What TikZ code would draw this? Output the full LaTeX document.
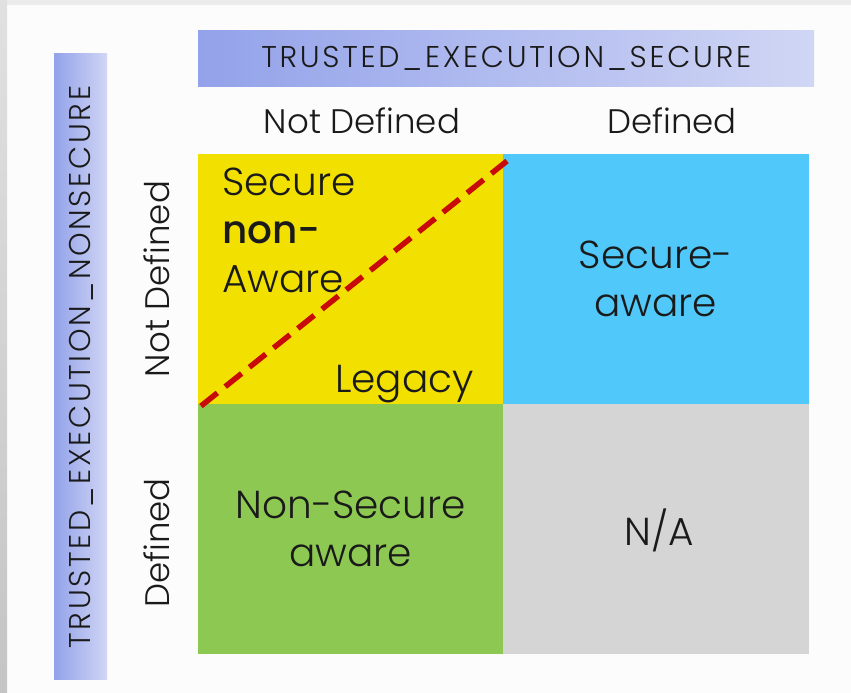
\documentclass[tikz,border=0pt]{standalone}
\usepackage{fontspec}
\setmainfont{Poppins Light}[BoldFont=Poppins Medium]
\newfontfamily\barfont{Poppins Light}[LetterSpace=9]
\definecolor{cellyellow}{HTML}{F2E000}
\definecolor{cellblue}{HTML}{50C8FA}
\definecolor{cellgreen}{HTML}{8DC952}
\definecolor{cellgray}{HTML}{D5D5D5}
\definecolor{barblue}{HTML}{93A2EA}
\definecolor{barlight}{HTML}{D0D6F4}
\definecolor{splitred}{HTML}{C80A0A}
\definecolor{txt}{HTML}{1A1A1A}
\tikzset{
  cell/.style={anchor=north west, minimum width=305.5pt, minimum height=250pt, inner sep=0pt, outer sep=0pt},
  celltext/.style={text=txt, inner sep=0pt, font=\fontsize{39}{48}\selectfont, align=center},
  axislabel/.style={text=txt, inner sep=0pt, font=\fontsize{34}{40}\selectfont},
  bartext/.style={text=txt, inner sep=0pt, font=\barfont\fontsize{30}{34}\selectfont},
}
\begin{document}
\begin{tikzpicture}[x=1pt, y=-1pt]
\useasboundingbox (0,0) rectangle (851,693);
% page frame
\fill[white!99!black] (0,0) rectangle (851,693);
\fill[white!92!black] (0,0) rectangle (851,5);
\shade[top color=white!88!black, bottom color=white!77!black] (0,0) rectangle (7,693);

% header bars
\node[anchor=north west, minimum width=616pt, minimum height=56pt, inner sep=0pt,
      left color=barblue, right color=barlight] (hbar) at (198,30) {};
\node[anchor=north west, minimum width=53pt, minimum height=626pt, inner sep=0pt,
      left color=barblue, right color=barlight] (vbar) at (54,53) {};
\node[bartext] (htitle) at (hbar.center) {TRUSTED\_EXECUTION\_SECURE};
\node[bartext, rotate=90] (vtitle) at (81,367) {TRUSTED\_EXECUTION\_NONSECURE};

% quadrants
\node[cell, fill=cellyellow] (legacy) at (198,154) {};
\node[cell, fill=cellblue]   (saware) at (503,154) {};
\node[cell, fill=cellgreen]  (nsaware) at (198,404) {};
\node[cell, fill=cellgray]   (na) at (503,404) {};

% column and row labels
\node[axislabel, anchor=base] (colnd) at (362,133) {Not Defined};
\node[axislabel, anchor=base] (cold)  at (672,133) {Defined};
\node[axislabel, anchor=base, rotate=90] (rownd) at (169,279) {Not Defined};
\node[axislabel, anchor=base, rotate=90] (rowd)  at (169,543) {Defined};

% split of the legacy quadrant
\coordinate (splitA) at (201,406);
\coordinate (splitB) at (507,161);
\draw[splitred, line width=5.5pt, dash pattern=on 21pt off 10pt] (splitA) -- (splitB);

% quadrant texts
\node[celltext, anchor=base west] (sna1) at (222,195) {Secure};
\node[celltext, anchor=base west] (sna2) at (222,243) {\bfseries non-};
\node[celltext, anchor=base west] (sna3) at (222,292) {Aware};
\node[celltext, anchor=base east] (leg) at (474,392) {Legacy};
\node[celltext] (sa) at (saware.center) {Secure-\\aware};
\node[celltext] (nsa) at (nsaware.center) {Non-Secure\\aware};
\node[celltext] (nat) at (659,530) {N/A};
\end{tikzpicture}
\end{document}
